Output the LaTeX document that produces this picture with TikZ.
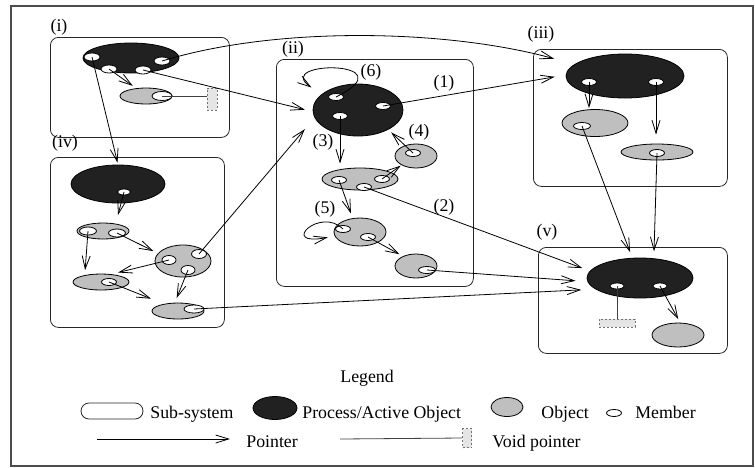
\documentclass[tikz,border=0pt]{standalone}
\usepackage{fontspec}
\setmainfont{Liberation Serif}
\usepackage{tikz}
\usetikzlibrary{shapes.geometric,arrows.meta,calc}

\definecolor{procgray}{gray}{0.13}
\definecolor{objgray}{gray}{0.75}
\definecolor{voidgray}{gray}{0.9}

\begin{document}
\begin{tikzpicture}[x=1pt, y=-1pt, line width=0.8pt,
    font=\fontsize{17.8}{20}\selectfont,
    subsys/.style={rectangle, draw=black!85, rounded corners=8pt, inner sep=0pt},
    proc/.style={ellipse, draw, fill=procgray, inner sep=0pt},
    obj/.style={ellipse, draw, fill=objgray, inner sep=0pt},
    mem/.style={ellipse, draw, fill=white, inner sep=0pt, minimum width=15pt, minimum height=7pt},
    voidbox/.style={rectangle, draw=black!55, dash pattern=on 2pt off 2pt, fill=voidgray, inner sep=0pt},
    ptr/.style={-{Straight Barb[length=13pt,width=8pt]}},
    vptr/.style={draw=black!75},
    lbl/.style={inner sep=0pt}
]
\useasboundingbox (0,0) rectangle (755,467);
\draw[black!70, line width=1.2pt] (11,6) rectangle (753,466);

% sub-systems
\node[subsys, anchor=north west, minimum width=179pt, minimum height=100pt] (subI) at (50,37) {};
\node[subsys, anchor=north west, minimum width=197pt, minimum height=227pt] (subII) at (276,59) {};
\node[subsys, anchor=north west, minimum width=194pt, minimum height=137pt] (subIII) at (533,49) {};
\node[subsys, anchor=north west, minimum width=174pt, minimum height=170pt] (subIV) at (50,157) {};
\node[subsys, anchor=north west, minimum width=189pt, minimum height=106pt] (subV) at (538,247) {};

\node[lbl] at (59,27) {(i)};
\node[lbl] at (293,49) {(ii)};
\node[lbl] at (541,34) {(iii)};
\node[lbl] at (65,143) {(iv)};
\node[lbl] at (547,232) {(v)};

% (i)
\node[proc, minimum width=96pt, minimum height=30pt] (procI) at (131,58) {};
\node[obj, minimum width=52pt, minimum height=16pt] (objIa) at (146,96) {};
\node[voidbox, minimum width=10pt, minimum height=22pt] (voidI) at (212,99) {};
\node[mem, minimum width=16pt, minimum height=8pt] (memIa) at (92,57) {};
\node[mem, minimum width=16pt, minimum height=8pt] (memIb) at (162,61) {};
\node[mem, minimum width=16pt, minimum height=8pt] (memIc) at (109,69) {};
\node[mem, minimum width=16pt, minimum height=8pt] (memId) at (143,70) {};
\node[mem, minimum width=20pt, minimum height=9pt] (memIe) at (162,96) {};

% (ii)
\node[proc, minimum width=90pt, minimum height=52pt] (procII) at (358,110) {};
\node[obj, minimum width=76pt, minimum height=22pt] (objIIa) at (360,179) {};
\node[obj, minimum width=42pt, minimum height=24pt] (objIIb) at (416,156) {};
\node[obj, minimum width=52pt, minimum height=28pt] (objIIc) at (360,232) {};
\node[obj, minimum width=42pt, minimum height=24pt] (objIId) at (416,266) {};
\node[mem] (memIIa) at (336,97) {};
\node[mem] (memIIb) at (383,106) {};
\node[mem] (memIIc) at (340,116) {};
\node[mem] (memIId) at (339,180) {};
\node[mem] (memIIe) at (364,187) {};
\node[mem] (memIIf) at (382,179) {};
\node[mem] (memIIg) at (413,153) {};
\node[mem] (memIIh) at (343,229) {};
\node[mem] (memIIi) at (368,237) {};
\node[mem, minimum width=17pt] (memIIj) at (427,270) {};

\node[lbl] at (444,83) {(1)};
\node[lbl] at (444,207) {(2)};
\node[lbl] at (323,142) {(3)};
\node[lbl] at (419,132) {(4)};
\node[lbl] at (325,209) {(5)};
\node[lbl] at (371,72) {(6)};

% (iii)
\node[proc, minimum width=118pt, minimum height=44pt] (procIII) at (625,76) {};
\node[obj, minimum width=66pt, minimum height=27pt] (objIIIa) at (595,123) {};
\node[obj, minimum width=72pt, minimum height=16pt] (objIIIb) at (657,152) {};
\node[mem] (memIIIa) at (589,82) {};
\node[mem] (memIIIb) at (656,82) {};
\node[mem, minimum width=17pt] (memIIIc) at (582,126) {};
\node[mem] (memIIId) at (657,153) {};

% (iv)
\node[proc, minimum width=94pt, minimum height=38pt] (procIV) at (118,184) {};
\node[obj, minimum width=52pt, minimum height=16pt] (objIVa) at (103,231) {};
\node[obj, minimum width=56pt, minimum height=32pt] (objIVb) at (183,261) {};
\node[obj, minimum width=56pt, minimum height=16pt] (objIVc) at (101,282) {};
\node[obj, minimum width=52pt, minimum height=16pt] (objIVd) at (178,311) {};
\node[mem, minimum width=13pt, minimum height=6pt] (memIVa) at (124,192) {};
\node[mem, minimum width=17pt, minimum height=8pt] (memIVb) at (88,231) {};
\node[mem, minimum width=17pt, minimum height=8pt] (memIVc) at (117,233) {};
\node[mem, minimum width=14pt, minimum height=9pt] (memIVd) at (169,260) {};
\node[mem, minimum width=15pt, minimum height=9pt] (memIVe) at (199,254) {};
\node[mem, minimum width=14pt, minimum height=9pt] (memIVf) at (188,270) {};
\node[mem] (memIVg) at (109,282) {};
\node[mem, minimum width=20pt, minimum height=8pt] (memIVh) at (194,309) {};

% (v)
\node[proc, minimum width=106pt, minimum height=40pt] (procV) at (640,278) {};
\node[obj, minimum width=52pt, minimum height=24pt] (objVa) at (678,335) {};
\node[voidbox, minimum width=36pt, minimum height=8pt] (voidV) at (617,323) {};
\node[mem, minimum width=14pt, minimum height=6pt] (memVa) at (617,286) {};
\node[mem, minimum width=14pt, minimum height=6pt] (memVb) at (660,286) {};

% pointers
\draw[ptr, shorten >=2pt] (memIa.center) -- (procIV.north);
\draw[ptr, shorten >=4pt] (memIc.center) -- (objIa.142);
\draw[ptr, shorten >=21pt] (memIb.center) .. controls (280,25) and (450,30) .. (procIII.167);
\draw[ptr, shorten >=8pt] (memId.center) -- (procII.182);
\draw[vptr] (memIe.center) -- (memIe.center -| voidI.west);

\draw[ptr, shorten >=11pt] (memIIb.center) -- (procIII.179);
\draw[ptr, shorten >=12pt] (memIIa.center) .. controls (410,60) and (272,60) .. (procII.157);
\draw[ptr, shorten >=4pt] (memIIc.center) -- (memIIc.center |- objIIa.north);
\draw[ptr, shorten >=4pt] (memIIg.center) -- (procII.327);
\draw[ptr, shorten >=1pt] (memIIf.center) -- (objIIb.212);
\draw[ptr, shorten >=5pt] (memIId.center) -- (objIIc.118);
\draw[ptr, shorten >=8pt] (memIIe.center) -- (procV.172);
\draw[ptr, shorten >=7pt] (memIIh.center) .. controls (320,206) and (278,247) .. (objIIc.189);
\draw[ptr, shorten >=4pt] (memIIi.center) -- (objIId.143);
\draw[ptr, shorten >=12pt] (memIIj.center) -- (procV.184);

\draw[ptr, shorten >=1pt] (memIIIa.center) -- (memIIIa.center |- objIIIa.north);
\draw[ptr, shorten >=9pt] (memIIIb.center) -- (memIIIb.center |- objIIIb.north);
\draw[ptr, shorten >=6pt] (memIIIc.center) -- (procV.111);
\draw[ptr, shorten >=7pt] (memIIId.center) -- (procV.55);

\draw[ptr, shorten >=9pt] (memIVa.center) -- (objIVa.30);
\draw[ptr, shorten >=5pt] (memIVb.center) -- (objIVc.157);
\draw[ptr, shorten >=5pt] (memIVc.center) -- (objIVb.163);
\draw[ptr, shorten >=7pt] (memIVd.center) -- (objIVc.37);
\draw[ptr, shorten >=5pt] (memIVf.center) -- (objIVd.111);
\draw[ptr, shorten >=15pt] (memIVe.center) -- (procII.190);
\draw[ptr, shorten >=14pt] (memIVg.center) -- (objIVd.153);
\draw[ptr, shorten >=14pt] (memIVh.center) -- (procV.194);

\draw[vptr] (memVa.center) -- (voidV.north);
\draw[ptr, shorten >=4pt] (memVb.center) -- (objVa.80);

% legend
\node[lbl, anchor=base west] (legend) at (340,382) {Legend};
\node[subsys, minimum width=62pt, minimum height=16pt] (keysub) at (112,411) {};
\node[lbl, anchor=base west] at (150,418) {Sub-system};
\node[proc, minimum width=44pt, minimum height=23pt] (keyproc) at (275,408) {};
\node[lbl, anchor=base west] at (302,418) {Process/Active Object};
\node[obj, minimum width=32pt, minimum height=19pt] (keyobj) at (507,407) {};
\node[lbl, anchor=base west] at (541,418) {Object};
\node[mem] (keymem) at (614,413) {};
\node[lbl, anchor=base west] at (635,418) {Member};
\coordinate (ptrstart) at (97,439);
\coordinate (ptrend) at (230,439);
\draw[ptr] (ptrstart) -- (ptrend);
\node[lbl, anchor=base west] at (246,447) {Pointer};
\coordinate (vptrstart) at (340,439);
\node[voidbox, minimum width=9pt, minimum height=19pt] (keyvoid) at (467,438) {};
\draw[vptr] (vptrstart) -- (keyvoid.west);
\node[lbl, anchor=base west] at (492,447) {Void pointer};

\end{tikzpicture}
\end{document}
